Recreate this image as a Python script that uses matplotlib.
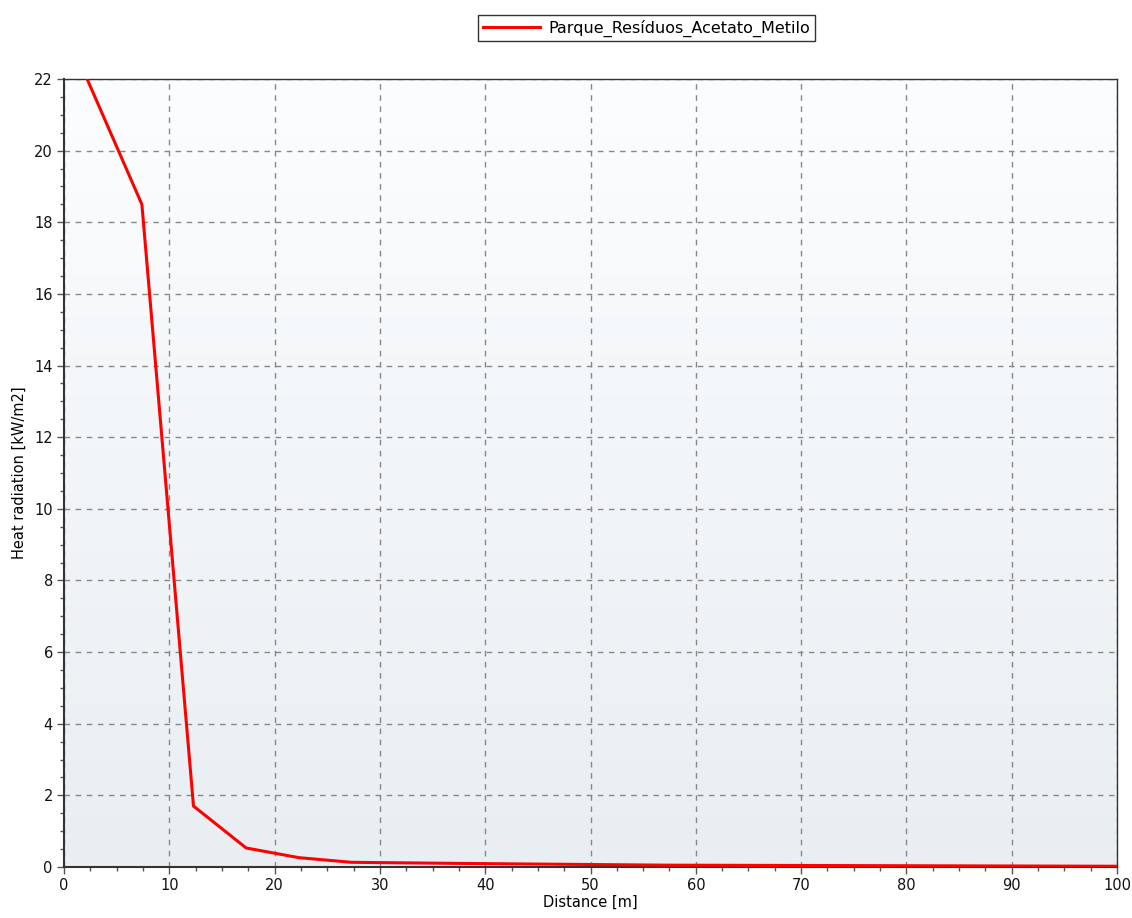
import numpy as np
import matplotlib
matplotlib.use("Agg")
import matplotlib.pyplot as plt
from matplotlib.colors import LinearSegmentedColormap
from matplotlib.ticker import MultipleLocator

plt.rcParams["font.family"] = ["DejaVu Sans"]

# data
distance = [2.2, 7.4, 12.3, 17.3, 22.3, 27.3, 37.3, 57.3, 100.0]
radiation = [22.0, 18.5, 1.7, 0.53, 0.26, 0.13, 0.10, 0.05, 0.02]
series_name = "Parque_Resíduos_Acetato_Metilo"

fig = plt.figure(figsize=(11.32, 9.18), dpi=100)
ax = fig.add_axes([0.0565, 0.0556, 0.9303, 0.8583])

# background gradient, light at top, blue-grey at bottom
cmap = LinearSegmentedColormap.from_list("bg", ["#e8eef2", "#fcfdfe"])
grad = np.linspace(0, 1, 256).reshape(-1, 1)
ax.imshow(grad, cmap=cmap, aspect="auto", extent=[0, 100, 0, 22],
          origin="lower", zorder=0)

ax.plot(distance, radiation, color="#ff0000", lw=2.2, label=series_name,
        zorder=3)

ax.set_xlim(0, 100)
ax.set_ylim(0, 22)
ax.xaxis.set_major_locator(MultipleLocator(10))
ax.xaxis.set_minor_locator(MultipleLocator(2.5))
ax.yaxis.set_major_locator(MultipleLocator(2))
ax.yaxis.set_minor_locator(MultipleLocator(0.5))
ax.tick_params(which="major", direction="out", length=5, width=1,
               color="#555555", labelsize=10.5, pad=3, labelcolor="#111111")
ax.tick_params(which="minor", direction="out", length=3, width=1,
               color="#555555")
ax.grid(True, which="major", linestyle=(0, (4, 4)), color="#888888", lw=1)

for side in ["left", "bottom"]:
    ax.spines[side].set_linewidth(1.5)
    ax.spines[side].set_color("#333333")
for side in ["top", "right"]:
    ax.spines[side].set_linewidth(1.0)
    ax.spines[side].set_color("#333333")

ax.set_xlabel("Distance [m]", fontsize=10.5, labelpad=1)
ax.set_ylabel("Heat radiation [kW/m2]", fontsize=10.5, labelpad=5)

leg = fig.legend(loc="center", bbox_to_anchor=(0.571, 0.9695), fontsize=11.5,
                 fancybox=False, frameon=True, edgecolor="black",
                 handlelength=3.6, handletextpad=0.5, borderpad=0.3)
leg.get_frame().set_linewidth(1.0)

fig.savefig("out.png", dpi=100)
